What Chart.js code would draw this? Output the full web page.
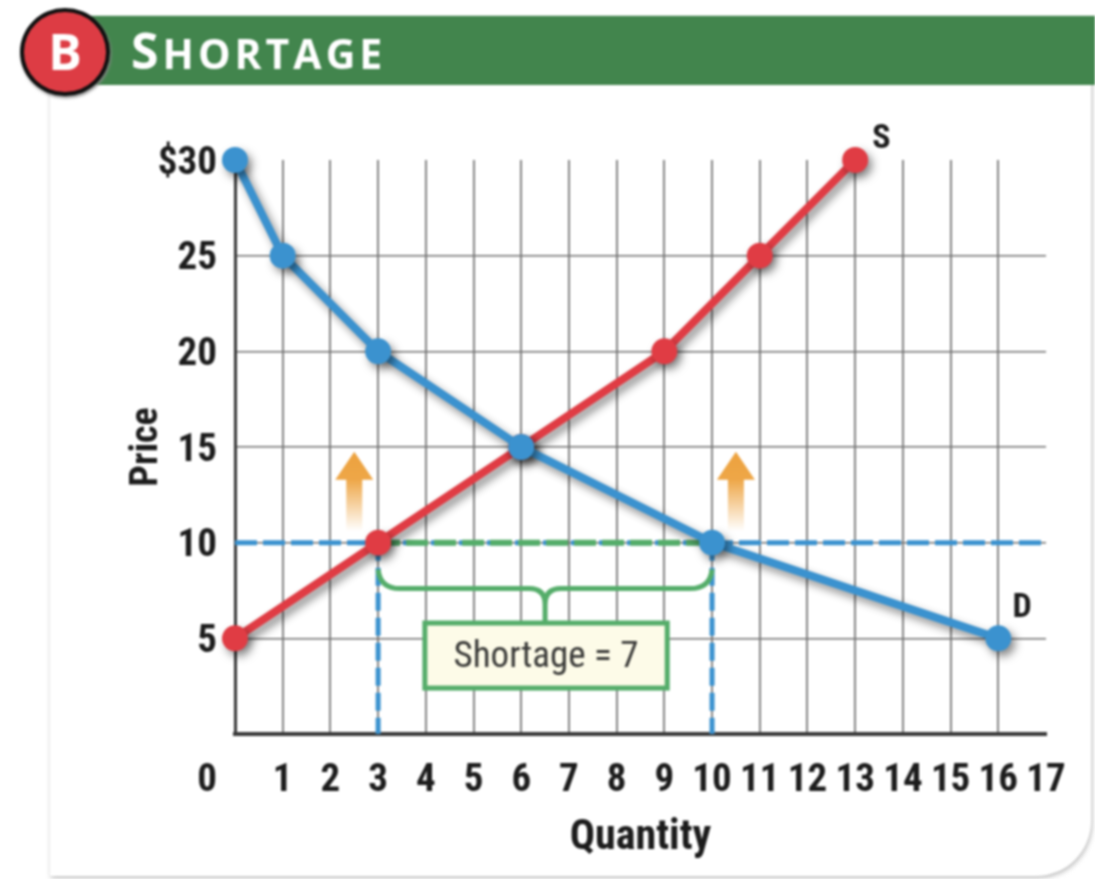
<!DOCTYPE html>
<html>
<head>
<meta charset="utf-8">
<title>Shortage</title>
<script src="https://cdn.jsdelivr.net/npm/chart.js@4"></script>
<style>
  html, body { margin: 0; padding: 0; background: #fff; }
  #page { position: relative; width: 1095px; height: 879px; overflow: hidden; filter: blur(0.9px); }
  #panel { position: absolute; left: 50px; top: 60px; width: 1041px; height: 816px; background: #fff;
    border-bottom-right-radius: 55px; box-shadow: 1px 2px 5px #b8b8b8; }
  #banner { position: absolute; left: 90px; top: 15px; width: 1005px; height: 70px; background: #42854d;
    border-top: 1px solid #d5e4d8; box-sizing: border-box; }
  #titulo { position: absolute; left: 131px; top: 15px; line-height: 70px; color: #fff; white-space: nowrap;
    font-family: "Open Sans", sans-serif; font-weight: 700; letter-spacing: 4px; }
  #titulo .grande { font-size: 50px; }
  #titulo .peq { font-size: 41px; }
  #circulo { position: absolute; left: 20px; top: 8px; width: 90px; height: 88px; box-sizing: border-box;
    border-radius: 50%; background: #dd3c44; border: 4px solid #111; color: #fff; text-align: center;
    font-family: "Open Sans", sans-serif; font-weight: 700; font-size: 50px; line-height: 78px;
    box-shadow: 1px 2px 3px #888; }
  canvas { position: absolute; left: 0; top: 0; }
</style>
</head>
<body>
<div id="page">
  <div id="panel"></div>
  <canvas id="grafico" width="1095" height="879"></canvas>
  <div id="banner"></div>
  <div id="titulo"><span class="grande">S</span><span class="peq">HORTAGE</span></div>
  <div id="circulo">B</div>
</div>
<script>
// Dados
var demandaQtd = [0, 1, 3, 6, 10, 16];
var demandaPreco = [30, 25, 20, 15, 10, 5];
var ofertaQtd = [0, 3, 6, 9, 11, 13];
var ofertaPreco = [5, 10, 15, 20, 25, 30];

var precoEscassez = 10;
var qtdDemandada = 10;
var qtdOfertada = 3;
var qtdMaxima = 17;
var precoMaximo = 30;

var tituloX = "Quantity";
var tituloY = "Price";
var textoCaixa = "Shortage = 7";

var fonte = '"Roboto Condensed", "Open Sans Condensed", sans-serif';
var azul = "#3b92cf";
var vermelho = "#e03c44";
var verde = "#55ad6a";
var laranja = "237,162,62";

function pontos(xs, ys) {
  return xs.map(function (x, i) {
    return { x: x, y: ys[i] };
  });
}

// sombra so nas curvas S e D
var sombraCurvas = {
  id: "sombraCurvas",
  beforeDatasetDraw: function (chart, args) {
    var ctx = chart.ctx;
    ctx.save();
    if (chart.data.datasets[args.index].sombra) {
      ctx.shadowColor = "rgba(0,0,0,0.45)";
      ctx.shadowBlur = 8;
      ctx.shadowOffsetX = 4;
      ctx.shadowOffsetY = 5;
    }
  },
  afterDatasetDraw: function (chart) {
    chart.ctx.restore();
  },
};

function desenhaSeta(chart, qtd) {
  var ctx = chart.ctx;
  var x = chart.scales.x.getPixelForValue(qtd);
  var yTopo = chart.scales.y.getPixelForValue(14.75);
  var yBase = chart.scales.y.getPixelForValue(10.6);
  var grad = ctx.createLinearGradient(0, yTopo, 0, yBase);
  grad.addColorStop(0, "rgba(" + laranja + ",1)");
  grad.addColorStop(0.35, "rgba(" + laranja + ",0.95)");
  grad.addColorStop(1, "rgba(" + laranja + ",0)");
  ctx.fillStyle = grad;
  ctx.beginPath();
  ctx.moveTo(x, yTopo);
  ctx.lineTo(x + 19, yTopo + 28);
  ctx.lineTo(x + 8, yTopo + 28);
  ctx.lineTo(x + 8, yBase);
  ctx.lineTo(x - 8, yBase);
  ctx.lineTo(x - 8, yTopo + 28);
  ctx.lineTo(x - 19, yTopo + 28);
  ctx.closePath();
  ctx.fill();
}

var setas = {
  id: "setas",
  beforeDatasetsDraw: function (chart) {
    desenhaSeta(chart, 2.5);
    desenhaSeta(chart, 10.5);
  },
};

// chave verde, caixa e rotulos S / D / 0
var anotacoes = {
  id: "anotacoes",
  afterDatasetsDraw: function (chart) {
    var ctx = chart.ctx;
    var sx = chart.scales.x;
    var sy = chart.scales.y;
    var x1 = sx.getPixelForValue(qtdOfertada);
    var x2 = sx.getPixelForValue(qtdDemandada);
    var meio = sx.getPixelForValue((qtdOfertada + qtdDemandada) / 2);
    var yIni = sy.getPixelForValue(8.6);
    var yBar = sy.getPixelForValue(7.6);
    var yCaixa = sy.getPixelForValue(5.8);
    var yFim = sy.getPixelForValue(2.4);
    var xCaixa1 = sx.getPixelForValue(3.98);
    var xCaixa2 = sx.getPixelForValue(9.06);

    ctx.save();
    ctx.strokeStyle = verde;
    ctx.lineWidth = 5;
    ctx.beginPath();
    ctx.moveTo(x1, yIni);
    ctx.quadraticCurveTo(x1 + 2, yBar, x1 + 22, yBar);
    ctx.lineTo(meio - 16, yBar);
    ctx.quadraticCurveTo(meio, yBar, meio, yBar + 16);
    ctx.quadraticCurveTo(meio, yBar, meio + 16, yBar);
    ctx.lineTo(x2 - 22, yBar);
    ctx.quadraticCurveTo(x2 - 2, yBar, x2, yIni);
    ctx.moveTo(meio, yBar + 14);
    ctx.lineTo(meio, yCaixa);
    ctx.stroke();

    ctx.fillStyle = "#fdfbe8";
    ctx.lineWidth = 5;
    ctx.fillRect(xCaixa1, yCaixa, xCaixa2 - xCaixa1, yFim - yCaixa);
    ctx.strokeRect(xCaixa1, yCaixa, xCaixa2 - xCaixa1, yFim - yCaixa);

    ctx.fillStyle = "#3a3a38";
    ctx.font = "37px " + fonte;
    ctx.textAlign = "center";
    ctx.textBaseline = "middle";
    ctx.fillText(textoCaixa, (xCaixa1 + xCaixa2) / 2, (yCaixa + yFim) / 2 + 2);

    ctx.fillStyle = "#1c1c1c";
    ctx.font = "bold 34px " + fonte;
    ctx.fillText("S", sx.getPixelForValue(13.55), sy.getPixelForValue(31.05));
    ctx.fillText("D", sx.getPixelForValue(16.5), sy.getPixelForValue(6.55));

    // o zero fica deslocado para a esquerda do eixo
    ctx.font = "bold 39px " + fonte;
    ctx.fillText("0", sx.getPixelForValue(0) - 28, sy.getPixelForValue(0) + 47);
    ctx.restore();
  },
};

new Chart(document.getElementById("grafico").getContext("2d"), {
  type: "line",
  plugins: [sombraCurvas, setas, anotacoes],
  data: {
    datasets: [
      {
        label: "D",
        data: pontos(demandaQtd, demandaPreco),
        borderColor: azul,
        backgroundColor: azul,
        borderWidth: 8,
        pointBorderWidth: 0,
        pointRadius: 13,
        tension: 0,
        clip: false,
        sombra: true,
        order: 1,
      },
      {
        label: "S",
        data: pontos(ofertaQtd, ofertaPreco),
        borderColor: vermelho,
        backgroundColor: vermelho,
        borderWidth: 8,
        pointBorderWidth: 0,
        pointRadius: 13,
        tension: 0,
        clip: false,
        sombra: true,
        order: 2,
      },
      {
        label: "falta",
        data: pontos([qtdOfertada, qtdDemandada], [precoEscassez, precoEscassez]),
        borderColor: verde,
        borderWidth: 6,
        borderDash: [22, 6],
        pointRadius: 0,
        order: 3,
      },
      {
        label: "preco",
        data: pontos([0, qtdMaxima], [precoEscassez, precoEscassez]),
        borderColor: azul,
        borderWidth: 5,
        borderDash: [22, 6],
        pointRadius: 0,
        order: 4,
      },
      {
        label: "qtd ofertada",
        data: pontos([qtdOfertada, qtdOfertada], [precoEscassez, 0]),
        borderColor: azul,
        borderWidth: 5,
        borderDash: [18, 7],
        pointRadius: 0,
        order: 5,
      },
      {
        label: "qtd demandada",
        data: pontos([qtdDemandada, qtdDemandada], [precoEscassez, 0]),
        borderColor: azul,
        borderWidth: 5,
        borderDash: [18, 7],
        pointRadius: 0,
        order: 5,
      },
    ],
  },
  options: {
    responsive: false,
    animation: false,
    events: [],
    layout: { padding: { left: 125, top: 160, right: 49, bottom: 15 } },
    plugins: {
      legend: { display: false },
      tooltip: { enabled: false },
    },
    scales: {
      x: {
        type: "linear",
        min: 0,
        max: qtdMaxima,
        afterFit: function (scale) {
          scale.height = 130;
        },
        title: {
          display: true,
          text: tituloX,
          color: "#1c1c1c",
          font: { family: fonte, size: 42, weight: "bold" },
          padding: { top: 4, bottom: 0 },
        },
        border: { color: "#3a3a3a", width: 4 },
        grid: {
          drawTicks: false,
          lineWidth: 2,
          color: function (c) {
            return c.tick.value === 0 || c.tick.value === qtdMaxima ? "rgba(0,0,0,0)" : "#858585";
          },
        },
        ticks: {
          stepSize: 1,
          autoSkip: false,
          maxRotation: 0,
          padding: 24,
          color: "#1c1c1c",
          font: { family: fonte, size: 39, weight: "bold" },
          callback: function (v) {
            return v === 0 ? "" : String(v);
          },
        },
      },
      y: {
        min: 0,
        max: precoMaximo,
        afterFit: function (scale) {
          scale.width = 110;
        },
        title: {
          display: true,
          text: tituloY,
          color: "#1c1c1c",
          font: { family: fonte, size: 38, weight: "bold" },
          padding: { top: 0, bottom: 0 },
        },
        border: { color: "#3a3a3a", width: 3 },
        grid: {
          drawTicks: false,
          lineWidth: 1.5,
          color: function (c) {
            return c.tick.value === 0 || c.tick.value === precoMaximo ? "rgba(0,0,0,0)" : "#707070";
          },
        },
        ticks: {
          stepSize: 5,
          padding: 18,
          labelOffset: 4,
          color: "#1c1c1c",
          font: { family: fonte, size: 39, weight: "bold" },
          callback: function (v) {
            if (v === 0) return "";
            return v === precoMaximo ? "$" + v : String(v);
          },
        },
      },
    },
  },
});
</script>
</body>
</html>
